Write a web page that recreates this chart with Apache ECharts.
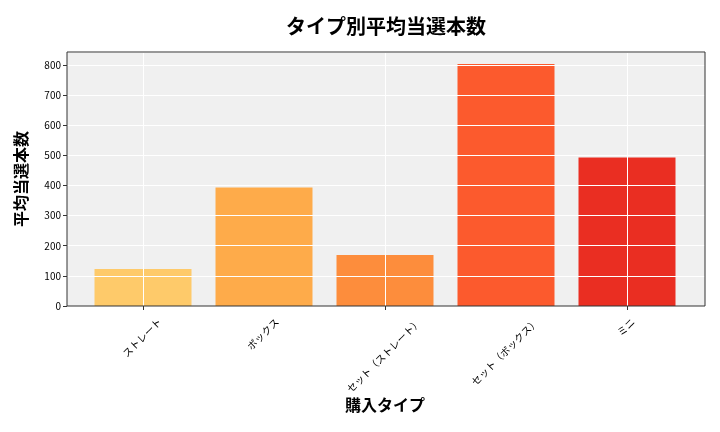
<!DOCTYPE html>
<html>
<head>
<meta charset="utf-8">
<script src="https://cdn.jsdelivr.net/npm/echarts@6/dist/echarts.min.js"></script>
<style>html,body{margin:0;padding:0;background:#fff}#c{width:720px;height:432px}</style>
</head>
<body>
<div id="c"></div>
<script>
const categories = ["ストレート", "ボックス", "セット（ストレート）", "セット（ボックス）", "ミニ"];
const values = [123, 393, 169, 803, 493];
const barColors = ["#FECA6A", "#FEAB4A", "#FD8D3C", "#FC5A2D", "#EA2E22"];
const yTicks = [0, 100, 200, 300, 400, 500, 600, 700, 800];
const yMax = 843;

const FONT = "Noto Sans CJK JP";
const L = 67, R = 705, T = 52, B = 306;
const LABEL_SIZE = 10;

const chart = echarts.init(document.getElementById('c'), null, {renderer: 'canvas'});
const frame = [
  {type: 'rect', z: -100, shape: {x: L, y: T, width: R - L, height: B - T}, style: {fill: '#f0f0f0', stroke: null}},
  {type: 'rect', z: 100, shape: {x: L, y: T, width: R - L, height: B - T}, style: {fill: null, stroke: '#333', lineWidth: 1}}
];
chart.setOption({
  backgroundColor: '#ffffff',
  animation: false,
  title: {
    text: 'タイプ別平均当選本数',
    left: 381, top: 11, textAlign: 'center',
    textStyle: {fontFamily: FONT, fontSize: 20, fontWeight: 'bold', color: '#000'}
  },
  graphic: frame,
  grid: [
    {left: L, right: 720 - R, top: T, bottom: 432 - B, outerBoundsMode: 'none'},
    {left: 143, right: 720 - 627, top: T, bottom: 432 - B, outerBoundsMode: 'none'}
  ],
  xAxis: [
    {type: 'value', gridIndex: 0, min: 0, max: 1, show: false},
    {type: 'category', gridIndex: 1, data: categories, boundaryGap: false,
      axisLine: {show: false},
      axisTick: {show: true, length: 4, lineStyle: {color: '#333'}},
      splitLine: {show: true, lineStyle: {color: '#ffffff', width: 1}},
      axisLabel: {show: false},
      name: '購入タイプ', nameLocation: 'middle', nameGap: 91, nameMoveOverlap: false,
      nameTextStyle: {fontFamily: FONT, fontSize: 16, fontWeight: 'bold', color: '#000', verticalAlign: 'top'}
    }
  ],
  yAxis: [
    {type: 'value', gridIndex: 0, min: 0, max: yMax, interval: 100,
      axisLine: {show: false},
      axisTick: {show: true, length: 4, lineStyle: {color: '#333'}},
      splitLine: {show: true, lineStyle: {color: '#ffffff', width: 1}},
      axisLabel: {fontFamily: FONT, fontSize: 10, color: '#000', margin: 6, showMaxLabel: false,
        formatter: v => (yTicks.indexOf(v) >= 0 ? String(v) : '')},
      name: '平均当選本数', nameLocation: 'middle', nameGap: 38, nameRotate: 90, nameMoveOverlap: false,
      nameTextStyle: {fontFamily: FONT, fontSize: 16, fontWeight: 'bold', color: '#000'}
    },
    {type: 'value', gridIndex: 1, min: 0, max: yMax, show: false}
  ],
  series: [{
    type: 'bar', xAxisIndex: 1, yAxisIndex: 1, z: -1,
    barWidth: 97,
    data: values.map((v, i) => ({value: v, itemStyle: {color: barColors[i]}}))
  }]
});

// category tick labels, rotated 45° and centred under each tick (matplotlib style)
const ctx = document.createElement('canvas').getContext('2d');
ctx.font = LABEL_SIZE + 'px "' + FONT + '"';
const labels = categories.map((c, i) => {
  const px = chart.convertToPixel({xAxisIndex: 1, yAxisIndex: 1}, [i, 0]);
  const w = ctx.measureText(c).width;
  return {
    type: 'text', z: 50,
    x: px[0] - 1, y: px[1] + 10 + (w + 11) * 0.3536,
    rotation: Math.PI / 4,
    style: {text: c, fontFamily: FONT, fontSize: LABEL_SIZE, fill: '#000', align: 'center', verticalAlign: 'middle'}
  };
});
chart.setOption({graphic: frame.concat(labels)});
</script>
</body>
</html>
